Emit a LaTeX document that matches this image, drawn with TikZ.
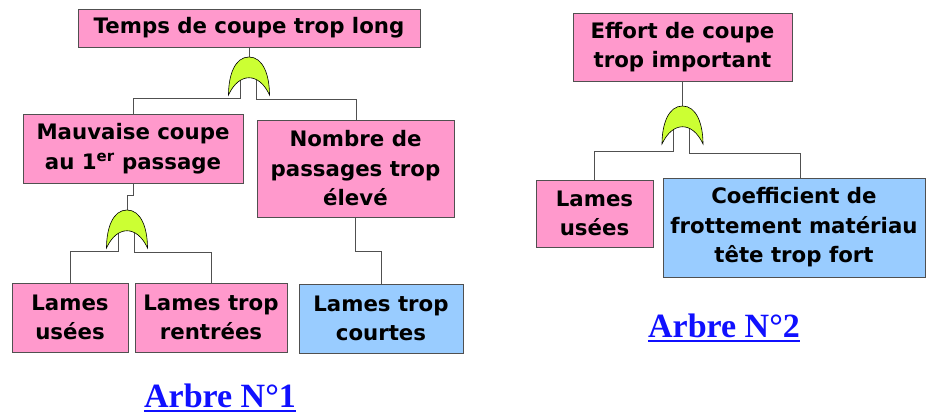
\documentclass[tikz,border=0pt]{standalone}
\usepackage{fontspec}
\setmainfont{DejaVu Sans}
\newfontfamily\labelfont{Liberation Serif}
\usetikzlibrary{backgrounds}
\definecolor{pinkfill}{HTML}{FF99CC}
\definecolor{bluefill}{HTML}{99CCFF}
\definecolor{gatefill}{HTML}{CCFF33}
\definecolor{linkblue}{HTML}{1010FF}
\definecolor{edgegray}{HTML}{505050}
\tikzset{
  boxbase/.style={draw=edgegray, line width=0.9pt, inner sep=0pt, align=center,
    font=\fontsize{21.3}{29.5}\selectfont\bfseries},
  pinkbox/.style={boxbase, fill=pinkfill},
  bluebox/.style={boxbase, fill=bluefill},
  conn/.style={draw=edgegray, line width=0.8pt},
  arbre/.style={text=linkblue, inner sep=0pt, anchor=base,
    font=\labelfont\fontsize{34}{40}\selectfont\bfseries},
  ulineb/.style={draw=linkblue, line width=2.6pt},
  orgate/.pic={
    \coordinate (-top) at (0,0);
    \coordinate (-l) at (-9,22);
    \coordinate (-r) at (7,22);
    \filldraw[fill=gatefill, draw=black, line width=0.6pt]
      (-20.5,38) .. controls (-20.5,18) and (-14,0) .. (0,0)
      .. controls (14,0) and (20.5,18) .. (20.5,38)
      .. controls (10,15) and (-10,15) .. cycle;
  }
}
\begin{document}
\begin{tikzpicture}[x=1pt,y=-1pt]
\useasboundingbox (0,0) rectangle (926,414);
% Tree 1
\node[pinkbox, minimum width=342pt, minimum height=38pt] (top1) at (249,28) {Temps de coupe trop long};
\node[pinkbox, minimum width=220pt, minimum height=69pt] (mauv) at (133,148.5) {Mauvaise coupe\\au 1\textsuperscript{er} passage};
\node[pinkbox, minimum width=197pt, minimum height=97pt] (nomb) at (355.5,168.5) {Nombre de\\passages trop\\élevé};
\node[pinkbox, minimum width=116pt, minimum height=69pt] (lu1) at (70,317.5) {Lames\\usées};
\node[pinkbox, minimum width=152pt, minimum height=69pt] (ltr) at (211,317.5) {Lames trop\\rentrées};
\node[bluebox, minimum width=164pt, minimum height=69pt] (ltc) at (381,318.5) {Lames trop\\courtes};
\pic (g1) at (249,57) {orgate};
\pic (g2) at (127,210) {orgate};
% Tree 2
\node[pinkbox, minimum width=219pt, minimum height=68pt] (eff) at (682.5,47) {Effort de coupe\\trop important};
\node[pinkbox, minimum width=117pt, minimum height=67pt] (lu2) at (594.5,213.5) {Lames\\usées};
\node[bluebox, minimum width=262pt, minimum height=99pt] (coef) at (794,227.5) {Coefficient de\\frottement matériau\\tête trop fort};
\pic (g3) at (682.5,106) {orgate};
% Connectors
\begin{pgfonlayer}{background}
\draw[conn] (top1.south) -- (g1-top);
\draw[conn] (g1-l) -- ++(0,19) -| (mauv.north);
\draw[conn] (g1-r) -- ++(0,20) -| ([xshift=0.5pt]nomb.north);
\draw[conn] (mauv.south) -- ++(0,12) -| (g2-top);
\draw[conn] (g2-l) -- ++(0,19) -| (lu1.north);
\draw[conn] (g2-r) -- ++(0,20) -| (ltr.north);
\draw[conn] (nomb.south) -- ++(0,34) -| (ltc.north);
\draw[conn] (eff.south) -- (g3-top);
\draw[conn] (g3-l) -- ++(0,23) -| (lu2.north);
\draw[conn] (g3-r) -- ++(0,25) -| ([xshift=6pt]coef.north);
\end{pgfonlayer}
% Labels
\node[arbre] (arb1) at (220,407) {Arbre N°1};
\draw[ulineb] ([yshift=-4pt]arb1.base west) -- ([yshift=-4pt]arb1.base east);
\node[arbre] (arb2) at (724,337) {Arbre N°2};
\draw[ulineb] ([yshift=-4pt]arb2.base west) -- ([yshift=-4pt]arb2.base east);
\end{tikzpicture}
\end{document}
